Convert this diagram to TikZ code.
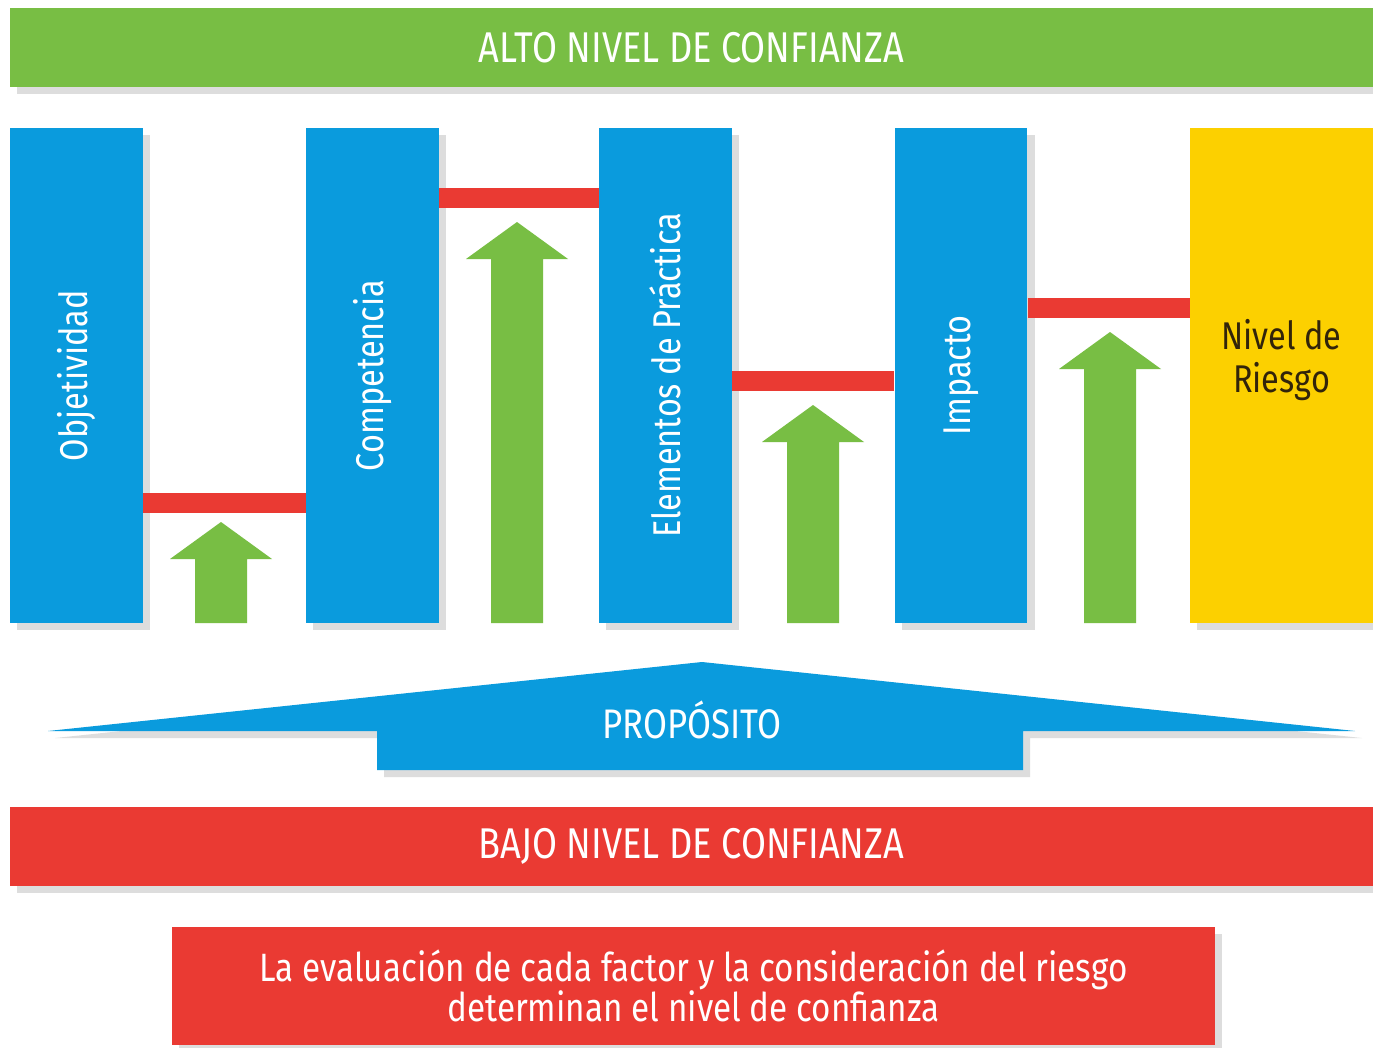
\documentclass[tikz,border=0pt]{standalone}
\usepackage{fontspec}
\setmainfont{Fira Sans}[FakeStretch=0.84]
\usetikzlibrary{shadows}

\definecolor{cgreen}{RGB}{120,190,68}
\definecolor{cblue}{RGB}{10,155,221}
\definecolor{cred}{RGB}{234,58,51}
\definecolor{cyellow}{RGB}{252,208,0}
\definecolor{ctext}{RGB}{50,36,10}

\tikzset{
  softshadow/.style={drop shadow={shadow xshift=4pt,shadow yshift=-4pt,opacity=.22,fill=black!60}},
  band/.style={rectangle,inner sep=0pt,minimum height=1.58cm,text=white,
    font=\fontsize{24.5}{28}\selectfont,softshadow},
  column/.style={rectangle,inner sep=0pt,fill=cblue,minimum width=2.66cm,
    minimum height=9.9cm,softshadow},
  coltext/.style={rotate=90,text=white,font=\fontsize{22}{26}\selectfont},
  redbar/.style={draw=cred,line width=0.4cm},
}

% green arrow pointing up: centre x, tip y
\newcommand{\greenarrow}[2]{%
  \fill[cgreen] ({#1-26},623) -- ({#1-26},{#2+37}) -- ({#1-51},{#2+37}) -- (#1,#2)
    -- ({#1+51},{#2+37}) -- ({#1+26},{#2+37}) -- ({#1+26},623) -- cycle;}

\begin{document}
\begin{tikzpicture}[x=0.02cm,y=-0.02cm]
  \useasboundingbox[fill=white] (0,0) rectangle (1373,1048);

  % top and bottom bands
  \node[band,fill=cgreen,minimum width=27.26cm] (alto) at (691.5,47.5) {ALTO NIVEL DE CONFIANZA};
  \node[band,fill=cred,minimum width=27.26cm] (bajo) at (691.5,846.5) {BAJO NIVEL DE CONFIANZA};

  % factor columns
  \node[column] (obj) at (76.5,375.5) {};
  \node[column] (comp) at (372.5,375.5) {};
  \node[column] (elem) at (665.5,375.5) {};
  \node[column] (imp) at (961,375.5) {};
  \node[column,fill=cyellow,minimum width=3.66cm] (riesgo) at (1281.5,375.5) {};
  \node[coltext] (tobj) at (obj.center) {Objetividad};
  \node[coltext] (tcomp) at (comp.center) {Competencia};
  \node[coltext] (telem) at (elem.center) {Elementos de Práctica};
  \node[coltext] (timp) at (imp.center) {Impacto};
  \node[text=ctext,align=center,font=\fontsize{22}{24}\selectfont] (triesgo) at (1281.5,360) {Nivel de\\Riesgo};

  % red links between columns
  \draw[redbar] (obj.east |- 0,503) -- (comp.west |- 0,503);
  \draw[redbar] (comp.east |- 0,198) -- (elem.west |- 0,198);
  \draw[redbar] (elem.east |- 0,381) -- (imp.west |- 0,381);
  \draw[redbar] (imp.east |- 0,308) -- (riesgo.west |- 0,308);

  % green arrows
  \greenarrow{221}{522}
  \greenarrow{517}{222}
  \greenarrow{813}{405}
  \greenarrow{1110}{332}

  % proposito
  \fill[cblue,softshadow] (48,731) -- (702,662) -- (1355,731) -- (1023,731) -- (1023,770)
    -- (377,770) -- (377,731) -- cycle;
  \node[text=white,font=\fontsize{23.5}{26}\selectfont] (prop) at (692,720) {PROPÓSITO};

  % note
  \node[rectangle,fill=cred,softshadow,minimum width=20.86cm,minimum height=2.36cm,
    text=white,align=center,font=\fontsize{22.5}{23}\selectfont] (nota) at (693.5,986)
    {La evaluación de cada factor y la consideración del riesgo\\determinan el nivel de confianza};
\end{tikzpicture}
\end{document}
